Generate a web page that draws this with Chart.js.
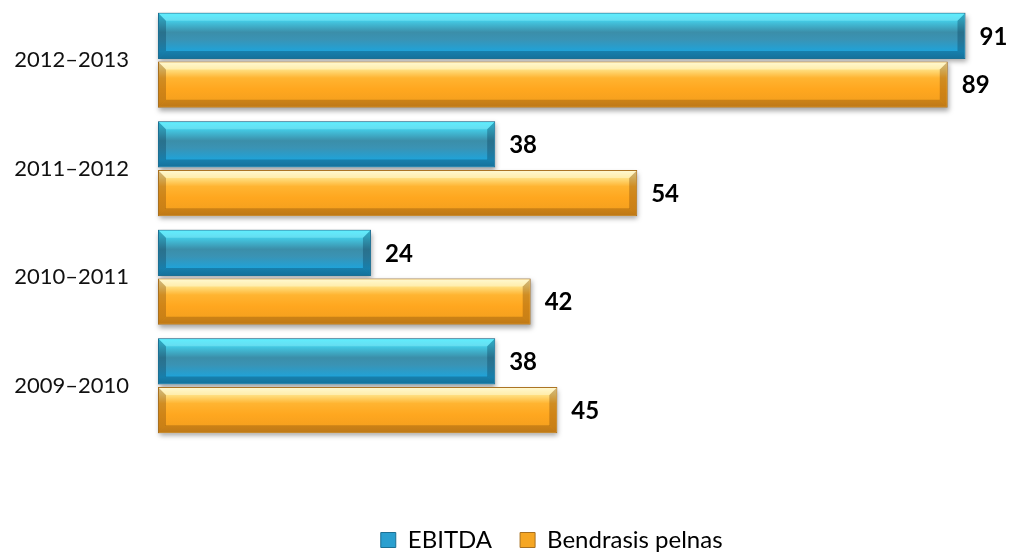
<!DOCTYPE html>
<html lang="lt">
<head>
    <meta charset="UTF-8">
    <title>EBITDA ir bendrasis pelnas</title>
    <style>
        * { margin: 0; padding: 0; box-sizing: border-box; }
        body { background: #ffffff; width: 1011px; height: 553px; overflow: hidden; }
        canvas { display: block; }
    </style>
    <script src="https://cdn.jsdelivr.net/npm/chart.js"></script>
</head>
<body>
    <canvas id="grafikas" width="1011" height="553"></canvas>
    <script>
        // duomenys
        const laikotarpiai = ['2012–2013', '2011–2012', '2010–2011', '2009–2010'];
        const ebitda = [91, 38, 24, 38];
        const bendrasisPelnas = [89, 54, 42, 45];

        const sriftas = 'Lato, "Open Sans", Arial, sans-serif';

        // spalvos gradientui (virsus -> apacia)
        const melynaStops = [[0, '#3fe6fb'], [0.12, '#45d4ee'], [0.42, '#3b8ea9'], [0.58, '#3a93b4'], [0.85, '#1fa3d9'], [1, '#1d8fc0']];
        const oranzStops = [[0, '#fff6c4'], [0.14, '#ffe48a'], [0.35, '#ffb431'], [0.6, '#ffa71f'], [0.88, '#f5a01e'], [1, '#e49520']];

        function juostuGeometrija(el) {
            const p = el.getProps(['x', 'y', 'base', 'height'], true);
            return {
                left: Math.min(p.base, p.x),
                right: Math.max(p.base, p.x),
                top: p.y - p.height / 2,
                bottom: p.y + p.height / 2
            };
        }

        // legenda centruojama pagal braizymo sriti, kaip originale
        const legendosPoslinkis = {
            id: 'legendosPoslinkis',
            afterLayout(chart) {
                const lg = chart.legend;
                const a = chart.chartArea;
                const norimas = a.left + (a.right - a.left) * 0.467;
                const dx = norimas - (lg.left + lg.right) / 2;
                lg.left += dx;
                lg.right += dx;
                lg.legendHitBoxes.forEach(h => { h.left += dx; });
            }
        };

        const seseliai = {
            id: 'seseliai',
            beforeDatasetsDraw(chart) {
                const ctx = chart.ctx;
                ctx.save();
                ctx.shadowColor = 'rgba(0,0,0,0.35)';
                ctx.shadowBlur = 5;
                ctx.shadowOffsetY = 3;
                ctx.shadowOffsetX = 1;
                ctx.fillStyle = '#cccccc';
                chart.data.datasets.forEach((ds, i) => {
                    chart.getDatasetMeta(i).data.forEach(el => {
                        const g = juostuGeometrija(el);
                        ctx.fillRect(g.left, g.top, g.right - g.left, g.bottom - g.top);
                    });
                });
                ctx.restore();
            }
        };

        const efektai = {
            id: 'efektai',
            afterDatasetsDraw(chart) {
                const ctx = chart.ctx;
                chart.data.datasets.forEach((ds, i) => {
                    const stops = i === 0 ? melynaStops : oranzStops;
                    const tamsi = i === 0 ? 'rgba(10,60,90,0.35)' : 'rgba(120,70,10,0.35)';
                    const sviesi = i === 0 ? 'rgba(160,250,255,0.35)' : 'rgba(255,250,220,0.45)';
                    chart.getDatasetMeta(i).data.forEach((el, j) => {
                        const g = juostuGeometrija(el);
                        const l = g.left + 1, r = g.right - 1, t = g.top + 1, b = g.bottom - 1;
                        ctx.save();
                        const grad = ctx.createLinearGradient(0, t, 0, b);
                        stops.forEach(s => grad.addColorStop(s[0], s[1]));
                        ctx.fillStyle = grad;
                        ctx.fillRect(l, t, r - l, b - t);
                        // nuozulnos briaunos
                        const d = 7;
                        ctx.fillStyle = tamsi;
                        ctx.beginPath();
                        ctx.moveTo(l, t); ctx.lineTo(l + d, t + d); ctx.lineTo(l + d, b - d); ctx.lineTo(l, b); ctx.closePath();
                        ctx.fill();
                        ctx.beginPath();
                        ctx.moveTo(l, b); ctx.lineTo(l + d, b - d); ctx.lineTo(r - d, b - d); ctx.lineTo(r, b); ctx.closePath();
                        ctx.fill();
                        ctx.beginPath();
                        ctx.moveTo(r, t); ctx.lineTo(r - d, t + d); ctx.lineTo(r - d, b - d); ctx.lineTo(r, b); ctx.closePath();
                        ctx.fill();
                        ctx.fillStyle = sviesi;
                        ctx.beginPath();
                        ctx.moveTo(l, t); ctx.lineTo(r, t); ctx.lineTo(r - d, t + d); ctx.lineTo(l + d, t + d); ctx.closePath();
                        ctx.fill();
                        ctx.restore();

                        // reiksme
                        ctx.save();
                        ctx.font = 'bold 24px ' + sriftas;
                        ctx.fillStyle = '#000000';
                        ctx.textBaseline = 'middle';
                        ctx.textAlign = 'left';
                        ctx.fillText(ds.data[j], g.right + 14, (g.top + g.bottom) / 2 + 1);
                        ctx.restore();
                    });
                });
            }
        };

        const ctx = document.getElementById('grafikas').getContext('2d');
        new Chart(ctx, {
            type: 'bar',
            data: {
                labels: laikotarpiai,
                datasets: [{
                    label: 'EBITDA',
                    data: ebitda,
                    backgroundColor: '#2a9fcf',
                    borderColor: '#1b6f93',
                    borderWidth: 1,
                    borderSkipped: false
                }, {
                    label: 'Bendrasis pelnas',
                    data: bendrasisPelnas,
                    backgroundColor: '#f5a623',
                    borderColor: '#a8701f',
                    borderWidth: 1,
                    borderSkipped: false
                }]
            },
            options: {
                indexAxis: 'y',
                responsive: false,
                animation: false,
                devicePixelRatio: 1,
                layout: { padding: { top: 6, right: 10, left: 0, bottom: -9 } },
                datasets: {
                    bar: { categoryPercentage: 0.9, barPercentage: 0.95 }
                },
                plugins: {
                    legend: {
                        position: 'bottom',
                        labels: {
                            font: { family: sriftas, size: 24 },
                            color: '#000000',
                            boxWidth: 15,
                            boxHeight: 15,
                            padding: 28
                        }
                    },
                    tooltip: { enabled: false }
                },
                scales: {
                    x: {
                        min: 0,
                        max: 95,
                        grid: { display: false },
                        border: { display: false },
                        ticks: { display: false },
                        afterFit: (s) => { s.height = 60; s.paddingTop = 0; s.paddingBottom = 0; }
                    },
                    y: {
                        grid: { display: false },
                        border: { display: false },
                        ticks: {
                            font: { family: sriftas, size: 22 },
                            color: '#111111',
                            padding: 21
                        },
                        afterFit: (s) => { s.width = 158; s.paddingTop = 0; s.paddingBottom = 0; }
                    }
                }
            },
            plugins: [legendosPoslinkis, seseliai, efektai]
        });
    </script>
</body>
</html>
